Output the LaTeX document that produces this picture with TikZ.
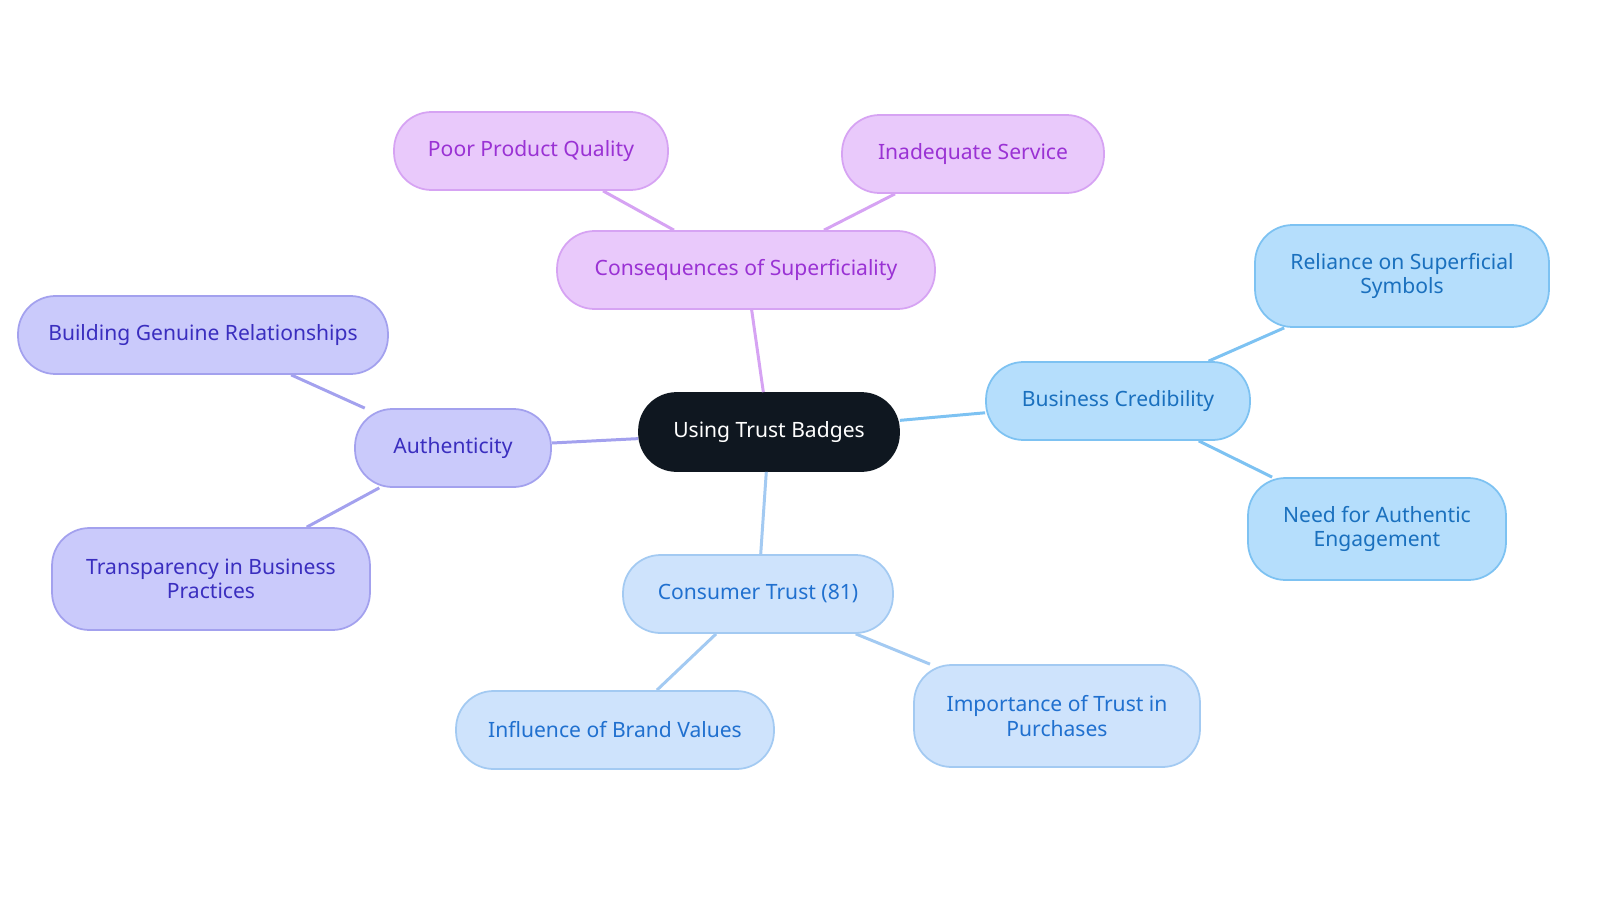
\documentclass[tikz,border=0pt]{standalone}
\usepackage{fontspec}
\setmainfont{Noto Sans}
\usetikzlibrary{positioning}
\definecolor{rootfill}{HTML}{0F1720}
\definecolor{purfill}{HTML}{E9C9FB}
\definecolor{purline}{HTML}{D6A3F3}
\definecolor{purtext}{HTML}{9A32D4}
\definecolor{bluefill}{HTML}{B5DEFC}
\definecolor{blueline}{HTML}{7DC2F2}
\definecolor{bluetext}{HTML}{1A70BE}
\definecolor{ltfill}{HTML}{CEE3FC}
\definecolor{ltline}{HTML}{A3CAF2}
\definecolor{lttext}{HTML}{2070CF}
\definecolor{vifill}{HTML}{CACAFB}
\definecolor{viline}{HTML}{A3A1EE}
\definecolor{vitext}{HTML}{3A2EBF}

\begin{document}
\begin{tikzpicture}[
x = 0.02cm, y = -0.02cm,
every node/.style = {
	font = \fontsize{12}{14}\selectfont
},
box/.style = {
	draw,
	line width = 1pt,
	rounded corners = 7.5mm,
	minimum height = 1.56cm,
	align = center
},
root/.style = {
	box,
	fill = rootfill,
	draw = rootfill,
	text = white
},
pur/.style = {box, fill = purfill, draw = purline, text = purtext},
blue/.style = {box, fill = bluefill, draw = blueline, text = bluetext},
lt/.style = {box, fill = ltfill, draw = ltline, text = lttext},
vi/.style = {box, fill = vifill, draw = viline, text = vitext},
tall/.style = {minimum height = 2.04cm},
link/.style = {line width = 1.7pt}
]
\useasboundingbox (0,0) rectangle (1600,903);

\node [root, minimum width=5.2cm] (root) at (769,432) {Using Trust Badges};

\node [pur, minimum width=7.56cm] (cons) at (746,270) {Consequences of Superficiality};
\node [pur, minimum width=5.48cm] (poor) at (531,151) {Poor Product Quality};
\node [pur, minimum width=5.24cm] (serv) at (973,154) {Inadequate Service};

\node [blue, minimum width=5.28cm] (cred) at (1118,401) {Business Credibility};
\node [blue, tall, minimum width=5.88cm] (rely) at (1402,276) {Reliance on Superficial\\Symbols};
\node [blue, tall, minimum width=5.16cm] (need) at (1377,529) {Need for Authentic\\Engagement};

\node [lt, minimum width=5.4cm] (trust) at (758,594) {Consumer Trust (81)};
\node [lt, minimum width=6.36cm] (brand) at (615,730) {Influence of Brand Values};
\node [lt, tall, minimum width=5.72cm] (purch) at (1057,716) {Importance of Trust in\\Purchases};

\node [vi, minimum width=3.92cm] (auth) at (453,448) {Authenticity};
\node [vi, minimum width=7.4cm] (build) at (203,335) {Building Genuine Relationships};
\node [vi, tall, minimum width=6.36cm] (transp) at (211,579) {Transparency in Business\\Practices};

\begin{scope}[on background layer/.style={}]
\end{scope}

\draw[link, purline] (root) -- (cons);
\draw[link, purline] (cons) -- (poor);
\draw[link, purline] (cons) -- (serv);
\draw[link, blueline] (root) -- (cred);
\draw[link, blueline] (cred) -- (rely);
\draw[link, blueline] (cred) -- (need);
\draw[link, ltline] (root) -- (trust);
\draw[link, ltline] (trust) -- (brand);
\draw[link, ltline] (trust) -- (purch);
\draw[link, viline] (root) -- (auth);
\draw[link, viline] (auth) -- (build);
\draw[link, viline] (auth) -- (transp);

\end{tikzpicture}
\end{document}
